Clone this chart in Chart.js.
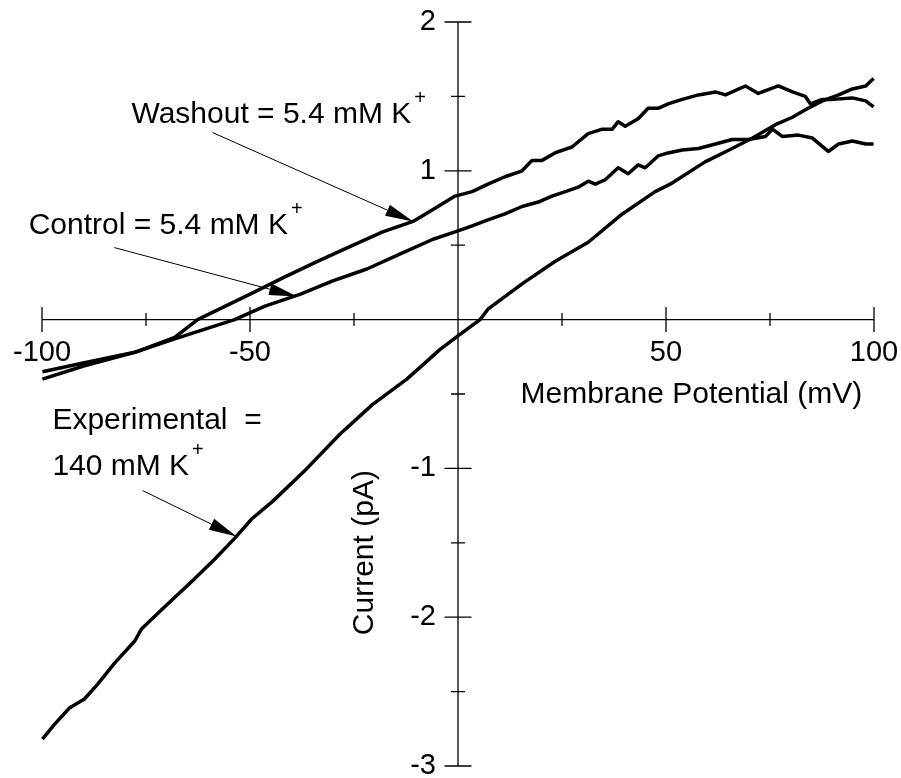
<!DOCTYPE html>
<html>
<head>
<meta charset="utf-8">
<script src="https://cdn.jsdelivr.net/npm/chart.js@4"></script>
<style>
  html, body { margin: 0; padding: 0; background: #fff; }
  canvas { display: block; }
</style>
</head>
<body>
<canvas id="ivChart" width="901" height="778"></canvas>
<script>
// membrane potential (mV) / current (pA)
const washoutV = [-99.9, -89.8, -77.7, -68.1, -62.6, -50.1, -42.1, -33.9, -26.0, -18.1, -10.8, -6.0, -0.7,
  3.4, 7.2, 11.3, 15.4, 17.8, 20.2, 23.3, 27.4, 31.3, 34.7, 37.1, 38.5, 40.2, 43.3, 45.7, 48.1, 50.5,
  53.9, 57.8, 61.9, 64.3, 69.1, 72.2, 77.0, 80.4, 83.5, 84.7, 87.6, 90.0, 94.8, 98.0, 99.9];
const washoutI = [-0.40, -0.31, -0.22, -0.12, 0.0, 0.17, 0.28, 0.39, 0.49, 0.59, 0.66, 0.74, 0.83,
  0.86, 0.91, 0.96, 1.00, 1.07, 1.07, 1.12, 1.16, 1.25, 1.28, 1.28, 1.33, 1.30, 1.35, 1.42, 1.42, 1.45,
  1.48, 1.51, 1.53, 1.51, 1.57, 1.52, 1.57, 1.53, 1.50, 1.45, 1.48, 1.48, 1.49, 1.47, 1.43];

const controlV = [-99.9, -89.8, -77.7, -68.1, -53.7, -46.4, -38.0, -30.1, -21.9, -14.0, -6.0, -0.7,
  3.4, 7.2, 11.3, 15.4, 19.3, 22.6, 25.8, 28.9, 31.3, 33.0, 35.4, 38.5, 40.9, 43.3, 45.0, 48.1, 50.5,
  53.9, 57.8, 61.9, 65.9, 69.8, 73.9, 75.6, 78.0, 81.8, 85.2, 89.0, 91.5, 94.8, 98.0, 99.9];
const controlI = [-0.35, -0.29, -0.22, -0.13, 0.0, 0.09, 0.17, 0.26, 0.34, 0.44, 0.54, 0.59,
  0.63, 0.67, 0.71, 0.76, 0.79, 0.83, 0.86, 0.89, 0.93, 0.91, 0.94, 1.02, 0.98, 1.04, 1.02, 1.10, 1.12,
  1.14, 1.15, 1.18, 1.21, 1.21, 1.23, 1.28, 1.23, 1.24, 1.22, 1.13, 1.18, 1.20, 1.18, 1.18];

const expV = [-99.9, -97.0, -93.4, -89.8, -86.6, -82.6, -77.7, -76.1, -70.5, -64.0, -58.5, -53.7,
  -49.6, -44.5, -36.3, -28.4, -20.5, -12.3, -4.3, 0, 5.3, 7.2, 15.4, 23.3, 31.3, 39.5, 47.4, 51.0,
  59.4, 65.9, 70.8, 76.3, 80.4, 83.5, 87.6, 91.5, 94.8, 98.0, 99.9];
const expI = [-2.82, -2.72, -2.61, -2.55, -2.45, -2.31, -2.16, -2.08, -1.93, -1.76, -1.61, -1.47,
  -1.34, -1.22, -1.00, -0.77, -0.57, -0.40, -0.20, -0.11, 0.0, 0.07, 0.24, 0.39, 0.52, 0.71, 0.86, 0.91,
  1.06, 1.15, 1.22, 1.31, 1.36, 1.41, 1.47, 1.51, 1.55, 1.57, 1.62];

const xTicks = [-100, -75, -50, -25, 0, 25, 50, 75, 100];
const xTickLabels = ["-100", "", "-50", "", "", "", "50", "", "100"];
const yTicks = [2, 1.5, 1, 0.5, 0, -0.5, -1, -1.5, -2, -2.5, -3];
const yTickLabels = ["2", "", "1", "", "", "", "-1", "", "-2", "", "-3"];

const xTitle = "Membrane Potential (mV)";
const yTitle = "Current (pA)";

// callouts, anchored in data units
const notes = [
  { lines: ["Washout = 5.4 mM K"], sup: "+", x: -78.5, y: 1.324 },
  { lines: ["Control = 5.4 mM K"], sup: "+", x: -103.2, y: 0.578 },
  { lines: ["Experimental  =", "140 mM K"], sup: "+", x: -97.5, y: -0.733 }
];
const arrows = [
  { from: [-59.0, 1.257], to: [-10.8, 0.659] },
  { from: [-82.6, 0.484], to: [-38.7, 0.155] },
  { from: [-75.8, -1.149], to: [-53.2, -1.458] }
];

function pairs(xs, ys) {
  return xs.map((x, i) => ({ x: x, y: ys[i] }));
}

const FONT = "30px Arial, 'Liberation Sans', sans-serif";
const TICK_FONT = "29px Arial, 'Liberation Sans', sans-serif";

const axesPlugin = {
  id: "crossAxes",
  beforeDatasetsDraw(chart) {
    const ctx = chart.ctx;
    const xs = chart.scales.x, ys = chart.scales.y;
    const x0 = xs.getPixelForValue(0), y0 = ys.getPixelForValue(0);
    ctx.save();
    ctx.strokeStyle = "#000";
    ctx.lineWidth = 1.3;
    ctx.beginPath();
    ctx.moveTo(xs.getPixelForValue(-100), y0);
    ctx.lineTo(xs.getPixelForValue(100), y0);
    ctx.moveTo(x0, ys.getPixelForValue(2));
    ctx.lineTo(x0, ys.getPixelForValue(-3));
    xTicks.forEach(v => {
      const px = xs.getPixelForValue(v);
      const len = v % 50 === 0 ? 12.5 : 6.5;
      ctx.moveTo(px, y0 - len);
      ctx.lineTo(px, y0 + len);
    });
    yTicks.forEach(v => {
      const py = ys.getPixelForValue(v);
      const len = v % 1 === 0 ? 13.5 : 7;
      ctx.moveTo(x0 - len, py);
      ctx.lineTo(x0 + len, py);
    });
    ctx.stroke();

    ctx.fillStyle = "#000";
    ctx.font = TICK_FONT;
    ctx.textAlign = "center";
    ctx.textBaseline = "alphabetic";
    xTicks.forEach((v, i) => {
      if (xTickLabels[i]) ctx.fillText(xTickLabels[i], xs.getPixelForValue(v), y0 + 41);
    });
    ctx.textAlign = "right";
    ctx.textBaseline = "middle";
    yTicks.forEach((v, i) => {
      if (yTickLabels[i]) ctx.fillText(yTickLabels[i], x0 - 22, ys.getPixelForValue(v));
    });
    ctx.restore();
  },
  afterDraw(chart) {
    const ctx = chart.ctx;
    const xs = chart.scales.x, ys = chart.scales.y;
    ctx.save();
    ctx.fillStyle = "#000";
    ctx.strokeStyle = "#000";
    ctx.font = FONT;

    // axis titles
    ctx.textAlign = "center";
    ctx.textBaseline = "middle";
    ctx.fillText(xTitle, xs.getPixelForValue(56.1), ys.getPixelForValue(-0.504));
    ctx.save();
    ctx.translate(xs.getPixelForValue(-22.4), ys.getPixelForValue(-1.566));
    ctx.rotate(-Math.PI / 2);
    ctx.fillText(yTitle, 0, 0);
    ctx.restore();

    // callout text with superscript
    ctx.textAlign = "left";
    ctx.textBaseline = "alphabetic";
    notes.forEach(n => {
      const left = xs.getPixelForValue(n.x);
      const base = ys.getPixelForValue(n.y);
      n.lines.forEach((line, i) => {
        const by = base + i * 46;
        ctx.font = FONT;
        ctx.fillText(line, left, by);
        if (i === n.lines.length - 1 && n.sup) {
          const w = ctx.measureText(line).width;
          ctx.font = "20px Arial, 'Liberation Sans', sans-serif";
          ctx.fillText(n.sup, left + w + 3, by - 19);
        }
      });
    });

    // arrows
    arrows.forEach(a => {
      const x1 = xs.getPixelForValue(a.from[0]), y1 = ys.getPixelForValue(a.from[1]);
      const x2 = xs.getPixelForValue(a.to[0]), y2 = ys.getPixelForValue(a.to[1]);
      const ang = Math.atan2(y2 - y1, x2 - x1);
      const head = 28, half = 6;
      const bx = x2 - head * Math.cos(ang), by = y2 - head * Math.sin(ang);
      ctx.lineWidth = 1;
      ctx.beginPath();
      ctx.moveTo(x1, y1);
      ctx.lineTo(bx, by);
      ctx.stroke();
      ctx.beginPath();
      ctx.moveTo(x2, y2);
      ctx.lineTo(bx + half * Math.sin(ang), by - half * Math.cos(ang));
      ctx.lineTo(bx - half * Math.sin(ang), by + half * Math.cos(ang));
      ctx.closePath();
      ctx.fill();
    });
    ctx.restore();
  }
};

function trace(label, xs, ys) {
  return {
    label: label,
    data: pairs(xs, ys),
    showLine: true,
    borderColor: "#000",
    backgroundColor: "#000",
    borderWidth: 3.5,
    borderJoinStyle: "round",
    pointRadius: 0,
    tension: 0,
    clip: false
  };
}

new Chart(document.getElementById("ivChart").getContext("2d"), {
  type: "scatter",
  data: {
    datasets: [
      trace("Washout", washoutV, washoutI),
      trace("Control", controlV, controlI),
      trace("Experimental", expV, expI)
    ]
  },
  options: {
    responsive: false,
    animation: false,
    devicePixelRatio: 1,
    layout: { padding: { left: 42, right: 27, top: 22, bottom: 12 } },
    plugins: {
      legend: { display: false },
      tooltip: { enabled: false }
    },
    scales: {
      x: { type: "linear", min: -100, max: 100, display: false },
      y: { type: "linear", min: -3, max: 2, display: false }
    }
  },
  plugins: [axesPlugin]
});
</script>
</body>
</html>
